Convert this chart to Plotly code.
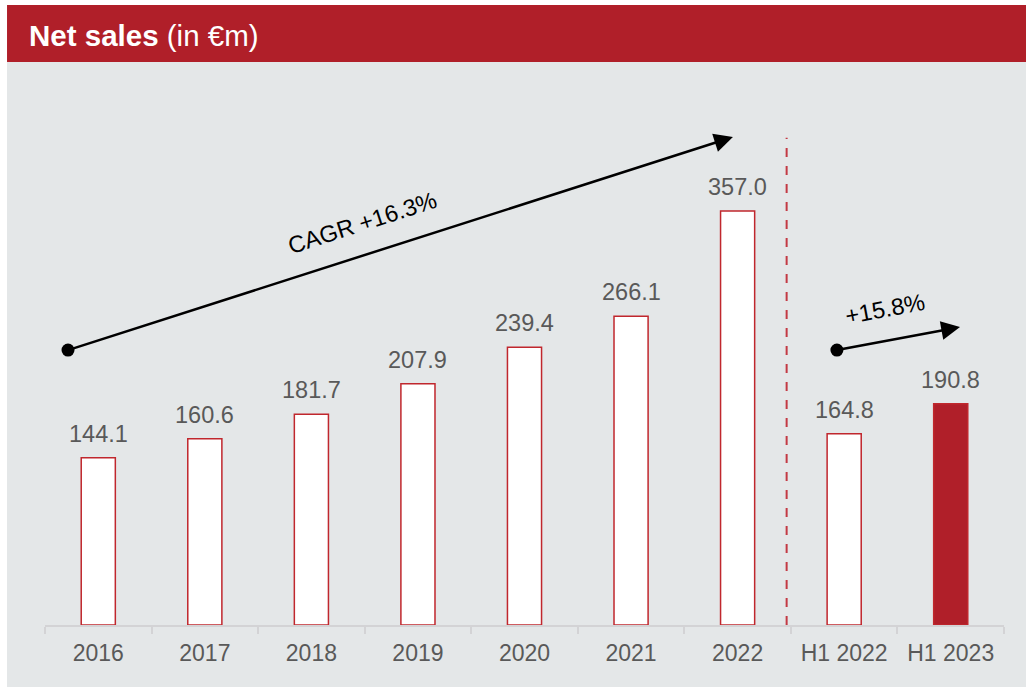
import plotly.graph_objects as go

# chart data
CATEGORIES = ["2016", "2017", "2018", "2019", "2020", "2021", "2022", "H1 2022", "H1 2023"]
NET_SALES = [144.1, 160.6, 181.7, 207.9, 239.4, 266.1, 357.0, 164.8, 190.8]
CAGR_LABEL = "CAGR +16.3%"
H1_GROWTH_LABEL = "+15.8%"

RED = "#B01F29"
OUTLINE = "#C0272D"
PANEL = "#E4E7E8"
GREY_TEXT = "#595959"
FONT = "Liberation Sans, Arial, sans-serif"

fills = ["white"] * (len(CATEGORIES) - 1) + [RED]

fig = go.Figure()
fig.add_trace(go.Bar(
    x=CATEGORIES, y=NET_SALES,
    marker=dict(color=fills, line=dict(color=OUTLINE, width=1.5)),
    width=0.32,
    showlegend=False,
    hoverinfo="x+y",
))

# value labels above the bars (category index, since "2016" would read as a number)
for i, v in enumerate(NET_SALES):
    fig.add_annotation(x=i, y=v, xref="x", yref="y", text=f"{v:.1f}", showarrow=False,
                       yanchor="bottom", yshift=9,
                       font=dict(size=23.5, color=GREY_TEXT, family=FONT))

# header band and grey panel (paper coords)
fig.add_shape(type="rect", xref="paper", yref="paper", x0=-0.0396, x1=1.03, y0=-0.13, y1=1.0724,
              fillcolor=PANEL, line_width=0, layer="below")
fig.add_shape(type="rect", xref="paper", yref="paper", x0=-0.0396, x1=1.03, y0=1.0724, y1=1.181,
              fillcolor=RED, line_width=0, layer="below")

# dashed separator between full years and half years
fig.add_shape(type="line", xref="x", yref="y", x0=6.46, x1=6.46, y0=0, y1=420,
              line=dict(color="#C33A44", width=2, dash="dash"))

# growth arrows
arrows = [(-0.284, 237, 5.956, 420.7), (6.932, 237, 8.087, 256.9)]
for x0, y0, x1, y1 in arrows:
    fig.add_annotation(x=x1, y=y1, ax=x0, ay=y0, xref="x", yref="y", axref="x", ayref="y",
                       showarrow=True, arrowhead=2, arrowsize=1.5, arrowwidth=2.5, arrowcolor="black",
                       text="")
    fig.add_shape(type="circle", xref="x", yref="y", xsizemode="pixel", ysizemode="pixel",
                  xanchor=x0, yanchor=y0, x0=-6.5, x1=6.5, y0=-6.5, y1=6.5,
                  fillcolor="black", line_width=0)

fig.add_annotation(x=2.475, y=346.6, xref="x", yref="y", text=CAGR_LABEL, showarrow=False,
                   textangle=-17.8, font=dict(size=23.5, color="black", family=FONT))
fig.add_annotation(x=7.383, y=272.4, xref="x", yref="y", text=H1_GROWTH_LABEL, showarrow=False,
                   textangle=-10.5, font=dict(size=23.5, color="black", family=FONT))

# title in header
fig.add_annotation(xref="paper", yref="paper", x=-0.0185, y=1.1238, xanchor="left", yanchor="middle",
                   text="<b>Net sales</b> (in €m)", showarrow=False,
                   font=dict(size=29.5, color="white", family=FONT))

fig.update_layout(
    width=1026, height=687,
    margin=dict(l=45, r=22, t=100, b=62),
    paper_bgcolor="white",
    plot_bgcolor="rgba(0,0,0,0)",
    font=dict(family=FONT),
)
fig.update_xaxes(
    showline=True, linecolor="#D3D3D5", linewidth=2,
    ticks="outside", tickson="boundaries", ticklen=7, tickcolor="#D3D3D5", tickwidth=2,
    ticklabelstandoff=6,
    tickfont=dict(size=23, color=GREY_TEXT, family=FONT),
    range=[-0.5, 8.5], showgrid=False,
)
fig.update_yaxes(visible=False, range=[0, 452.6], showgrid=False, zeroline=False)

fig.write_html("out.html", config={"displayModeBar": False},
               post_script="document.body.style.margin='0';")
